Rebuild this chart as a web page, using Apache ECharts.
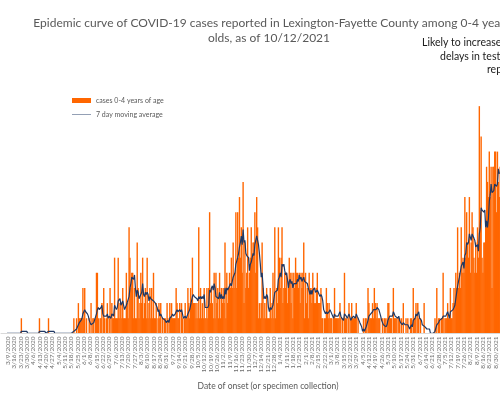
<!DOCTYPE html>
<html>
<head>
<meta charset="utf-8">
<script src="https://cdn.jsdelivr.net/npm/echarts@6/dist/echarts.min.js"></script>
<style>
  html, body { margin: 0; padding: 0; overflow: hidden; background: #fff; }
  #chart { width: 538px; height: 396px; }
</style>
</head>
<body>
<div id="chart"></div>
<script>
// daily cases, 0-4 year olds, from 3/2/2020
const cases2020 = [
  0,0,0,0,0,0,0,0,0,0, 0,0,0,0,0,0,0,0,0,0,
  0,0,1,0,0,0,0,0,0,0, 0,0,0,0,0,0,0,0,0,0,
  0,0,1,0,0,0,0,0,0,0, 0,0,1,0,0,0,0,0,0,0,
  0,0,0,0,0,0,0,0,0,0, 0,0,0,0,0,0,0,0,0,0,
  1,0,0,1,0,2,1,1,1,1, 3,1,3,0,1,0,0,1,0,2,
  0,1,1,0,1,4,4,1,0,1, 1,2,0,3,1,0,1,2,0,1,
  3,0,2,1,1,5,1,1,1,5, 1,2,2,1,3,1,1,1,4,2,
  1,7,5,3,4,4,1,3,1,1, 6,3,1,2,4,2,5,1,2,3,
  1,5,1,2,3,1,3,1,4,1, 1,2,0,1,2,1,2,0,1,0,
  1,1,0,2,1,0,2,1,2,1, 1,1,1,3,2,1,1,2,0,2,
  1,0,1,2,1,1,3,2,1,3, 2,5,2,2,2,1,2,1,7,1,
  3,1,2,1,3,1,1,3,1,3, 8,2,3,2,1,4,1,4,2,3,
  1,4,1,3,2,3,2,6,1,4, 2,3,4,3,5,3,6,3,4,8,
  3,8,5,9,5,7,4,10,2,6, 3,4,7,3,4,5,7,5,6,6,
  8,4,9,7,1,2,1,2,6,3, 1,2,1,3,1,1,1,3,1,2,
  4,1,7,1,3
]
// from 1/1/2021 to the right edge of the picture
const cases2021 = [
  2,7,5,3,5,
  7,2,3,4,3,4,2,3,5,4, 2,4,1,4,3,5,4,4,3,4,
  2,4,3,4,6,1,4,2,3,1, 4,3,3,2,4,3,2,2,3,4,
  2,2,2,3,1,1,0,1,1,3, 2,1,2,1,1,1,0,1,3,1,
  1,1,1,1,2,1,0,1,0,4, 1,1,0,1,2,0,1,2,1,1,
  1,1,2,0,1,0,0,0,0,0, 1,0,1,1,0,3,2,1,1,1,
  2,1,3,2,1,2,1,1,1,0, 0,1,0,1,1,0,1,2,2,1,
  1,1,0,3,1,1,1,1,0,1, 1,0,1,0,2,0,0,1,0,1,
  0,0,1,1,0,3,1,1,2,0, 2,1,0,1,0,0,0,2,0,0,
  0,0,0,0,0,0,0,0,0,1, 0,3,0,1,1,0,1,1,4,0,
  1,1,1,2,1,1,3,1,1,2, 3,2,4,3,7,3,4,3,7,4,
  5,4,9,5,8,6,5,9,4,6, 8,7,5,4,6,4,7,5,15,8,
  13,5,4,6,6,7,11,10,9,12, 9,11,3,11,11,12,12,8,12,10,
  9,11
]
const legendNames = ['cases 0-4 years of age', '7 day moving average']
const noteLines = ['Likely to increase due to', 'delays in testing and', 'reporting']

const font = 'Lato, "Liberation Sans", sans-serif'

// one category per day, 3/2/2020 .. 10/12/2021
const dates = []
for (let i = 0; i < 590; i++) {
  const d = new Date(2020, 2, 2 + i)
  dates.push((d.getMonth() + 1) + '/' + d.getDate() + '/' + d.getFullYear())
}

const cases = cases2020.concat(cases2021)
// trailing 7 day average of the daily counts
const avg7 = cases.map((v, i) => {
  if (i < 6) return null
  let s = 0
  for (let k = i - 6; k <= i; k++) s += cases[k]
  return +(s / 7).toFixed(2)
})

const myChart = echarts.init(document.getElementById('chart'))
myChart.setOption({
  animation: false,
  title: {
    text: 'Epidemic curve of COVID-19 cases reported in Lexington-Fayette County among 0-4 year\nolds, as of 10/12/2021',
    left: 'center',
    top: 11,
    textStyle: { fontFamily: font, fontSize: 12, fontWeight: 'normal', color: '#595959', lineHeight: 15 }
  },
  graphic: noteLines.map((t, k) => ({
    type: 'text',
    left: [422, 440, 487][k],
    top: 37.5 + k * 13.5,
    style: { text: t, fontFamily: font, fontSize: 10.5, fill: '#1a1a1a' }
  })),
  legend: {
    orient: 'vertical',
    left: 67,
    top: 92,
    itemWidth: 19,
    itemHeight: 5,
    itemGap: 7,
    textStyle: { fontFamily: font, fontSize: 7, color: '#595959' },
    data: [
      { name: legendNames[0], icon: 'rect' },
      // plain line marker, no dot
      { name: legendNames[1], icon: 'path://M0 0H40V1H0Z' }
    ]
  },
  grid: { left: 1, width: 534, top: 91, height: 242.4 },
  xAxis: {
    type: 'category',
    data: dates,
    z: 5,
    axisLine: { lineStyle: { color: '#d9d9d9', width: 1 } },
    axisTick: { show: false },
    axisLabel: { interval: 6, rotate: 90, fontSize: 6.5, color: '#6e6e6e', margin: 3, fontFamily: font },
    name: 'Date of onset (or specimen collection)',
    nameLocation: 'middle',
    nameGap: 48,
    nameTextStyle: { fontFamily: font, fontSize: 8.5, color: '#595959' }
  },
  yAxis: { type: 'value', min: 0, max: 16, show: false, splitLine: { show: false } },
  series: [
    {
      name: legendNames[0],
      type: 'bar',
      data: cases,
      barWidth: 1.4,
      itemStyle: { color: '#ff6600' }
    },
    {
      name: legendNames[1],
      type: 'line',
      data: avg7,
      symbol: 'none',
      z: 3,
      itemStyle: { color: '#1f3864' },
      lineStyle: { color: '#1f3864', width: 1.2 }
    }
  ]
})
</script>
</body>
</html>
